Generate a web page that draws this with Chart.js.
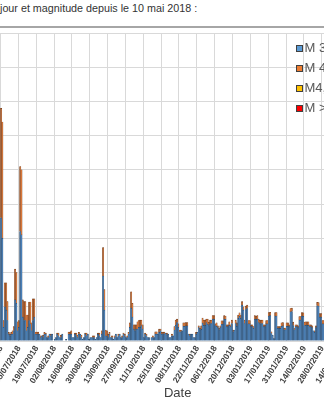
<!DOCTYPE html>
<html lang="fr">
<head>
<meta charset="utf-8">
<script src="https://cdn.jsdelivr.net/npm/chart.js@4"></script>
<style>
  html, body { margin: 0; padding: 0; background: #fff; }
  body { width: 324px; height: 400px; overflow: hidden; position: relative; font-family: "Liberation Sans", Arial, sans-serif; }
  #titre { position: absolute; left: 0; top: 2px; font-size: 10.75px; color: #333; white-space: nowrap; }
  #trait { position: absolute; left: 0; top: 26px; width: 324px; height: 2px; background: #a6a6a6; }
  #chart { position: absolute; left: -120px; top: 0; }
</style>
</head>
<body>
<div id="titre">jour et magnitude depuis le 10 mai 2018 :</div>
<div id="trait"></div>
<canvas id="chart" width="540" height="400"></canvas>
<script>
// one bar per day since 10/05/2018, only the part shown in the crop is read
const startDate = new Date(2018, 4, 10);
const dayCount = 362;
const firstDay = 42; // 21/06/2018, first day visible

const seriesLabels = ["M 3 à 4", "M 4 à 4,5", "M4,5 à 5", "M > 5"];

// M 3 (blue), from 21/06/2018
const m3 = [
  36, 30, 4, 10, 9, 6, 2, 1.5, 2, 2, 3, 12, 11, 3, 4, 32, 31, 7, 6, 6, 3, 4, 6, 5, 3, 6, 7, 2,
  2, 2, 2, 1, 1.5, 1, 2, 2, 1, 1, 2, 1.5, 2, 0, 0.5, 1, 2, 1.5, 1, 1, 2, 0, 0, 0.5, 0, 2, 2, 2, 1, 1,
  2, 1.5, 1, 2, 2, 1, 0.5, 1, 2, 1.5, 2, 0.5, 1, 1, 1, 1, 0.5, 1, 2, 1.5, 1, 2,
  19, 9, 1.5, 1.5, 1, 2, 1, 1, 0.5, 1, 2, 1, 1.5, 2, 1, 1, 2, 1.5, 1, 1,
  2, 4, 9.6, 7, 3.5, 3, 3.5, 3.5, 4, 4, 4.5, 3.5, 1, 2, 1.5, 1, 1, 0, 1, 1, 1, 2, 2, 2, 2.5, 3, 2,
  2.1, 2.1, 2.3, 1.8, 2, 1, 1, 1.5, 1.5, 3.2, 4.6, 5.4, 4, 2.7, 2.7, 3, 4.3, 4.3, 4.4, 4.4,
  2, 1.5, 2, 2, 1, 1, 2, 2.5, 3.9, 3.3, 3.4, 5.2, 4.6, 4.6, 5.4, 4.9, 4.5, 5.1, 5.1, 6.4,
  6.4, 4.5, 4.3, 3.9, 3.3, 3.9, 4.9, 4.9, 6.4, 6.3, 4.2, 4.2, 4.6, 4.2, 5.1, 2.7, 3.2, 5.1, 4.3, 6.6,
  7.2, 6.6, 10.5, 9, 5.1, 9.2, 9.5, 5, 5, 4.2, 4.2, 3.7, 6.4, 6.3, 6.4, 5.4, 5.1, 5.1, 5.1, 4.2,
  4.2, 5, 5, 7.3, 7.4, 2.2, 1.7, 0.7, 7.3, 7.3, 3.7, 3.7, 3.7, 4.3, 4.4, 3.3, 3.3, 4.3, 4.3, 4.2,
  8.5, 8.6, 4.5, 3.3, 4.2, 4.2, 3.9, 6.1, 6.1, 7.3, 7.2, 4.5, 4.6, 4.6, 4.6, 4.2, 4.2, 3.9, 3, 2.5,
  3.9, 10.3, 10.2, 7, 7, 5, 5
];

// M 4 (orange), same days
const m4 = [
  32, 34, 2, 7, 8, 5.5, 0.5, 0.5, 0.5, 1, 1.2, 9, 9, 2.6, 2, 19, 19, 5, 5.5, 5.5, 4.6, 3.6, 5.4, 6.4, 2.3, 6.3, 5.3, 0.6,
  0.6, 0.6, 0, 0.5, 0, 0.7, 0.5, 0.3, 0, 0.5, 0, 0.5, 0, 0, 0, 0, 0.3, 0.8, 0, 0.7, 0, 0, 0, 0, 0, 0.6, 0.6, 1, 0, 0,
  0.3, 0.8, 0.7, 0.5, 0, 0.7, 0, 0, 0.3, 0.8, 0, 0, 0, 0, 0.5, 0.5, 0, 0, 0.3, 0.8, 0, 1,
  8.3, 6, 1.7, 1.5, 1, 0.5, 0, 0.5, 0, 0.5, 0, 0, 0.5, 0, 0, 0.5, 0.3, 0.5, 0, 0.5,
  0.5, 1.3, 4.8, 4, 1.2, 1.7, 1.2, 2.1, 2, 2.1, 1.6, 1.2, 0, 0.3, 0.5, 0, 0, 0, 0, 0.5, 0, 0.7, 0.7, 0, 1, 0.5, 0.5,
  0.5, 0.5, 0, 0.5, 0, 0, 0, 0.5, 0, 1, 1.5, 1, 1, 0.5, 0.5, 0, 1, 1, 1, 1,
  0, 0.5, 0, 0, 0, 0, 0.5, 0, 0.5, 0.5, 1, 1.5, 1.5, 1.5, 1, 1.5, 1, 1, 1, 1,
  1, 0.5, 1, 0.5, 0.5, 0.5, 1, 1, 1, 1, 0.5, 0.5, 1, 0.5, 1, 0.5, 0, 1, 1, 1,
  1, 1, 1, 1, 1, 1, 1, 1, 1, 0.5, 0.5, 0.5, 1, 1, 1, 1, 1, 1, 1, 0.5,
  0.5, 1, 1, 1, 1, 0.5, 0, 0, 1, 1, 0.5, 0.5, 0.5, 1, 1, 0.5, 0.5, 1, 1, 0.5,
  1, 1, 1, 0.5, 0.5, 0.5, 0.5, 1, 1, 1, 1, 1, 1, 1, 1, 0.5, 0.5, 0.5, 0, 0.5,
  0.5, 1, 1, 1, 1, 1, 1
];

// M4,5 and M > 5: nothing readable in the crop
const m45 = [];
const m5 = [];

const days = [];
for (let i = 0; i < dayCount; i++) {
  const d = new Date(startDate.getFullYear(), startDate.getMonth(), startDate.getDate() + i);
  days.push(String(d.getDate()).padStart(2, "0") + "/" + String(d.getMonth() + 1).padStart(2, "0") + "/" + d.getFullYear());
}

function place(values) {
  return days.map((_, i) => {
    const v = values[i - firstDay];
    return v === undefined ? null : v;
  });
}

const legendColors = ["#5b9bd5", "#ed7d31", "#ffc000", "#ff0000"];

const legendeExcel = {
  id: "legendeExcel",
  afterDraw(chart) {
    const { ctx } = chart;
    ctx.save();
    ctx.font = '13px "Liberation Sans", Arial, sans-serif';
    ctx.textBaseline = "middle";
    chart.data.datasets.forEach((ds, i) => {
      const y = 48 + i * 20;
      ctx.fillStyle = "#404040";
      ctx.fillRect(416, y - 3, 7, 7);
      ctx.fillStyle = legendColors[i];
      ctx.fillRect(417, y - 2, 5, 5);
      ctx.fillStyle = "#595959";
      ctx.fillText(ds.label, 424.5, y + 0.5);
    });
    ctx.restore();
  }
};

new Chart(document.getElementById("chart"), {
  type: "bar",
  data: {
    labels: days,
    datasets: [
      { label: seriesLabels[0], data: place(m3), backgroundColor: "#4a80b8", borderColor: "#27415e" },
      { label: seriesLabels[1], data: place(m4), backgroundColor: "#d9783a", borderColor: "#5e3116" },
      { label: seriesLabels[2], data: place(m45), backgroundColor: "#ffc000", borderColor: "#6a5200" },
      { label: seriesLabels[3], data: place(m5), backgroundColor: "#ff0000", borderColor: "#700000" }
    ]
  },
  options: {
    responsive: false,
    animation: false,
    devicePixelRatio: 1,
    layout: { padding: { left: 66.9, right: 11.55, top: 33, bottom: 0 } },
    plugins: { legend: { display: false }, tooltip: { enabled: false } },
    datasets: { bar: { categoryPercentage: 1, barPercentage: 1, borderWidth: 0.45, borderSkipped: "start" } },
    scales: {
      x: {
        stacked: true,
        grid: {
          color: c => c.index % 14 === 0 ? "#d9d9d9" : "rgba(0,0,0,0)",
          drawTicks: false,
          offset: true
        },
        border: { color: "#d9d9d9" },
        ticks: {
          autoSkip: false,
          minRotation: 58,
          maxRotation: 58,
          padding: 3,
          color: "#404040",
          font: { family: '"Liberation Sans", Arial, sans-serif', size: 8.5, weight: "bold" },
          callback: (v, i) => i % 14 === 0 ? days[i] : ""
        },
        title: {
          display: true,
          text: "Date",
          color: "#404040",
          font: { family: '"Liberation Sans", Arial, sans-serif', size: 13, lineHeight: 1 },
          padding: 0
        },
        afterFit: s => { s.height = 59; }
      },
      y: {
        stacked: true,
        min: 0,
        max: 90,
        ticks: { stepSize: 10, display: false },
        grid: { color: "#d9d9d9", drawTicks: false },
        border: { display: false }
      }
    }
  },
  plugins: [legendeExcel]
});
</script>
</body>
</html>
